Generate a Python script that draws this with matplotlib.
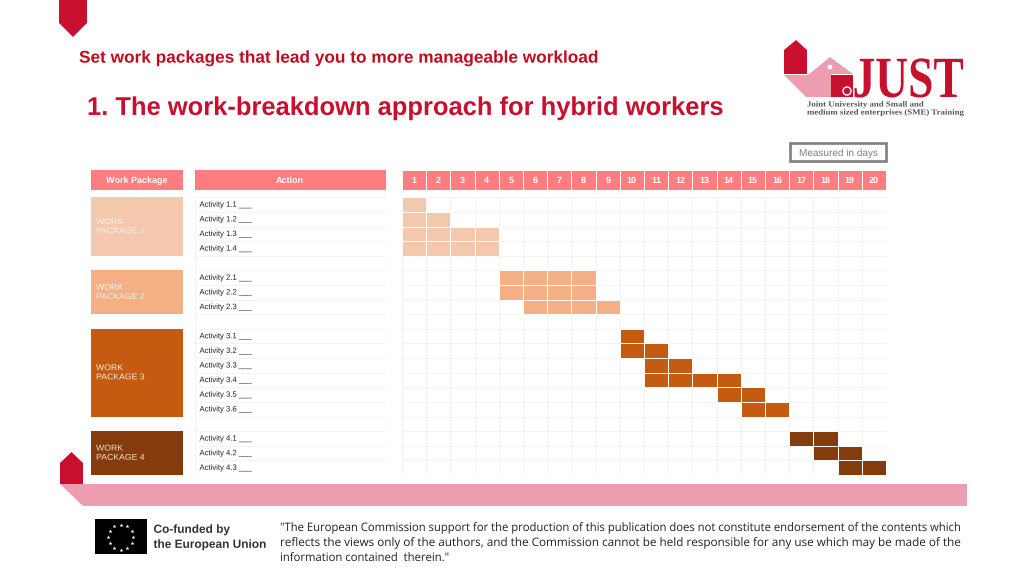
import matplotlib
matplotlib.use('Agg')
import numpy as np
import matplotlib.pyplot as plt
import matplotlib.patheffects as pe
from matplotlib.patches import Polygon, Rectangle, Circle
from matplotlib.transforms import Affine2D

plt.rcParams['text.hinting'] = 'no_hinting'
plt.rcParams['text.hinting_factor'] = 1

# chart data
days = list(range(1, 21))
activities = ['Activity 1.1 ___', 'Activity 1.2 ___', 'Activity 1.3 ___', 'Activity 1.4 ___',
              'Activity 2.1 ___', 'Activity 2.2 ___', 'Activity 2.3 ___',
              'Activity 3.1 ___', 'Activity 3.2 ___', 'Activity 3.3 ___', 'Activity 3.4 ___',
              'Activity 3.5 ___', 'Activity 3.6 ___',
              'Activity 4.1 ___', 'Activity 4.2 ___', 'Activity 4.3 ___']
activity_rows = [0, 1, 2, 3, 5, 6, 7, 9, 10, 11, 12, 13, 14, 16, 17, 18]
first_day = [1, 1, 1, 1, 5, 5, 6, 10, 10, 11, 11, 14, 15, 17, 18, 19]
last_day = [1, 2, 4, 4, 8, 8, 9, 10, 11, 12, 14, 15, 16, 18, 19, 20]
activity_package = [0, 0, 0, 0, 1, 1, 1, 2, 2, 2, 2, 2, 2, 3, 3, 3]
packages = ['WORK\nPACKAGE 1', 'WORK\nPACKAGE 2', 'WORK\nPACKAGE 3', 'WORK\nPACKAGE 4']
package_top = [0, 5, 9, 16]
package_rows = [4, 3, 6, 3]
package_colors = ['#F4C8AC', '#F4AF84', '#C55A11', '#843C0C']
n_rows = 19

HEAD = '#FF7C80'
RED = '#C80F2E'
GRID = '#F1F1F1'
SANS = 'Liberation Sans'
SERIF = 'Liberation Serif'


class StretchX(pe.AbstractPathEffect):
    # squeezes glyphs sideways, text stays text
    def __init__(self, sx):
        super().__init__()
        self.sx = sx

    def draw_path(self, renderer, gc, tpath, affine, rgbFace=None):
        renderer.draw_path(gc, tpath, Affine2D().scale(self.sx, 1) + affine, rgbFace)


def px_axes(x0, y0, x1, y1):
    ax = fig.add_axes([x0 / 1024, 1 - y1 / 576, (x1 - x0) / 1024, (y1 - y0) / 576])
    ax.set_xticks([])
    ax.set_yticks([])
    for s in ax.spines.values():
        s.set_visible(False)
    ax.patch.set_alpha(0)
    return ax


fig = plt.figure(figsize=(10.24, 5.76), dpi=100, facecolor='white')

# page furniture in pixel coordinates
bg = px_axes(0, 0, 1024, 576)
bg.set_xlim(0, 1024)
bg.set_ylim(576, 0)

bg.add_patch(Polygon([(59, 0), (87, 0), (87, 23), (73, 37), (59, 23)], fc=RED, ec='none'))
bg.add_patch(Polygon([(60, 484), (967, 484), (967, 506), (83, 506)], fc='#EC9DB0', ec='none'))
bg.add_patch(Polygon([(60, 484), (60, 463), (71.5, 452), (83, 463), (83, 484)], fc=RED, ec='none'))

bg.text(79, 56.5, 'Set work packages that lead you to more manageable workload', color='#C00D1E',
        fontsize=12.27, fontweight='bold', family=SANS, ha='left', va='center_baseline',
        path_effects=[StretchX(1.012)])
bg.text(87, 105.5, '1. The work-breakdown approach for hybrid workers', color=RED,
        fontsize=18.48, fontweight='bold', family=SANS, ha='left', va='center_baseline',
        path_effects=[StretchX(0.994)])

# JUST logo
bg.add_patch(Polygon([(784, 50), (796, 40), (807, 50), (807, 74), (784, 74)], fc=RED, ec='none'))
bg.add_patch(Polygon([(784, 75), (808, 75), (830, 57), (853, 74), (831, 74), (831, 97), (806, 97)],
                     fc='#EC9DB0', ec='none'))
bg.add_patch(Circle((830, 67), 2.4, fc='white', ec='none'))
bg.add_patch(Rectangle((831, 75), 22, 22, fc=RED, ec='none'))
bg.add_patch(Circle((847, 91), 4, fc='none', ec='white', lw=1))
bg.text(852.5, 97, 'JUST', color=RED, fontsize=42, fontweight='bold', family=SERIF,
        ha='left', va='baseline', path_effects=[StretchX(0.78)])
bg.text(807, 106.5, 'Joint University and Small and', color='#555555', fontsize=5.6,
        fontweight='bold', family=SERIF, ha='left', va='baseline', path_effects=[StretchX(1.13)])
bg.text(807, 114.5, 'medium sized enterprises (SME) Training', color='#555555', fontsize=5.6,
        fontweight='bold', family=SERIF, ha='left', va='baseline', path_effects=[StretchX(1.13)])

# measured in days box
bg.add_patch(Rectangle((790, 143), 96, 18, fc='white', ec='#7F7F7F', lw=1.9))
bg.text(838, 152.5, 'Measured in days', color='#7F7F7F', fontsize=7.4, family=SANS,
        ha='center', va='center_baseline')

# column headers
bg.add_patch(Rectangle((91, 170), 92, 20, fc=HEAD, ec='none'))
bg.add_patch(Rectangle((195, 170), 190.5, 20, fc=HEAD, ec='none'))
bg.text(137, 180, 'Work Package', color='white', fontsize=6.2, fontweight='bold', family=SANS,
        ha='center', va='center_baseline')
bg.text(290, 180, 'Action', color='white', fontsize=6.2, fontweight='bold', family=SANS,
        ha='center', va='center_baseline')

head = px_axes(402, 170, 886, 190)
head.bar(days, 1, width=1, bottom=0, color=HEAD, edgecolor='white', linewidth=0.7)
head.set_xlim(0.5, 20.5)
head.set_ylim(0, 1)
for d in days:
    head.text(d, 0.5, str(d), color='white', fontsize=6.6, fontweight='bold', family=SANS,
              ha='center', va='center_baseline')

# work package blocks
wp = px_axes(91, 197.3, 183, 475)
wp.barh([t + r / 2 for t, r in zip(package_top, package_rows)], 1, height=package_rows,
        left=0, color=package_colors)
wp.set_xlim(0, 1)
wp.set_ylim(n_rows, 0)
for name, t, r, c in zip(packages, package_top, package_rows, ['#FBF1E9', '#FBF1E9', '#FBEBDD', '#F5DFC8']):
    wp.text(0.055, t + r / 2, name, color=c, fontsize=6.0, family=SANS, ha='left', va='center',
            linespacing=1.3, path_effects=[StretchX(1.04)])

# activity names
act = px_axes(195, 197.3, 385.5, 475)
act.set_xlim(0, 190.5)
act.set_ylim(n_rows, 0)
act.hlines(np.arange(n_rows + 1), 0, 190.5, color=GRID, lw=0.6)
act.vlines([0, 190.5], 0, n_rows, color=GRID, lw=0.6)
for name, r in zip(activities, activity_rows):
    act.text(4.5, r + 0.45, name, color='#222222', fontsize=5.6, family=SANS, ha='left',
             va='center_baseline', path_effects=[StretchX(0.99)])

# gantt grid
ax = px_axes(402, 197.3, 886, 475)
ax.set_xlim(0.5, 20.5)
ax.set_ylim(n_rows, 0)
ax.hlines(np.arange(n_rows + 1), 0.5, 20.5, color=GRID, lw=0.6, zorder=1)
ax.vlines(np.arange(0.5, 21), 0, n_rows, color=GRID, lw=0.6, zorder=1)
for r, a, b, p in zip(activity_rows, first_day, last_day, activity_package):
    cells = list(range(a, b + 1))
    ax.bar(cells, 1, width=1, bottom=r, color=package_colors[p], edgecolor='white',
           linewidth=0.7, zorder=2)

# footer
bg.add_patch(Rectangle((95, 519), 52, 35, fc='black', ec='none'))
angles = np.deg2rad(np.arange(0, 360, 30))
bg.scatter(120.7 + 12.5 * np.cos(angles), 537 + 12.5 * np.sin(angles), marker='*', s=9,
           color='white', linewidths=0)
bg.text(153.5, 528.5, 'Co-funded by', color='#333333', fontsize=8.55, fontweight='bold',
        family=SANS, ha='left', va='center_baseline', path_effects=[StretchX(1.0)])
bg.text(153.5, 543.5, 'the European Union', color='#333333', fontsize=8.55, fontweight='bold',
        family=SANS, ha='left', va='center_baseline', path_effects=[StretchX(1.0)])

footer = ['"The European Commission support for the production of this publication does not constitute endorsement of the contents which',
          'reflects the views only of the authors, and the Commission cannot be held responsible for any use which may be made of the',
          'information contained  therein."']
footer_y = [531, 546, 561]
footer_w = [700.5, 700.5, 174]
fig.canvas.draw()
rend = fig.canvas.get_renderer()
for line, y, tw in zip(footer, footer_y, footer_w):
    t = bg.text(280, y, line, color='#222222', fontsize=8.4, family='Open Sans', ha='left', va='baseline')
    w = t.get_window_extent(rend).width
    t.set_path_effects([StretchX(tw / w)])

fig.savefig('out.png', dpi=100)
